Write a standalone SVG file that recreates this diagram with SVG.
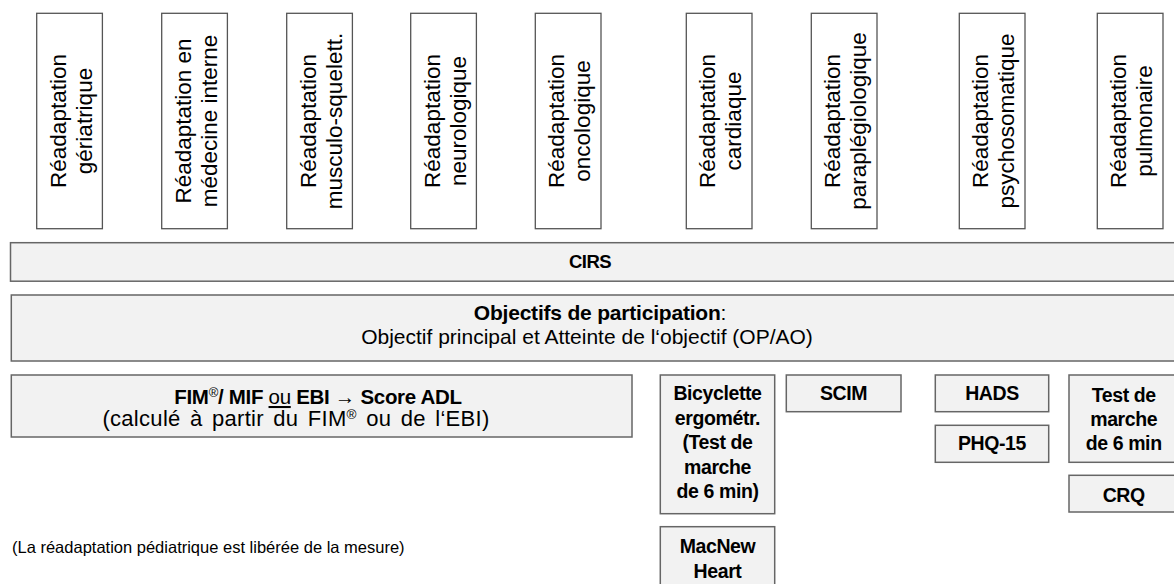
<svg xmlns="http://www.w3.org/2000/svg" width="1174" height="584" viewBox="0 0 1174 584">
<style>
.top{fill:#ffffff;stroke:#555555;stroke-width:1.3}
.bar{fill:#f2f2f2;stroke:#666666;stroke-width:1.5}
.rt{font-family:"Liberation Sans",Arial,sans-serif;font-size:22.5px;fill:#000;text-anchor:middle}
.h{font-family:"Liberation Sans",Arial,sans-serif;fill:#000;text-anchor:middle}
.b{font-weight:bold}
.sm{font-family:"Liberation Sans",Arial,sans-serif;font-size:19.5px;font-weight:bold;fill:#000;text-anchor:middle;letter-spacing:-0.4px}
</style>
<g id="connectors"></g>
<g id="n-geriatrique"><rect class="top" x="36.7" y="13.3" width="65.7" height="215.4"/><text class="rt" transform="translate(69.5,121) rotate(-90)"><tspan x="0" y="-4">Réadaptation</tspan><tspan x="0" y="22">gériatrique</tspan></text></g>
<g id="n-medecine"><rect class="top" x="161.7" y="13.3" width="65.7" height="215.4"/><text class="rt" transform="translate(194.5,121) rotate(-90)"><tspan x="0" y="-4">Réadaptation en</tspan><tspan x="0" y="22">médecine interne</tspan></text></g>
<g id="n-musculo"><rect class="top" x="286.7" y="13.3" width="65.7" height="215.4"/><text class="rt" transform="translate(319.5,121) rotate(-90)"><tspan x="0" y="-4">Réadaptation</tspan><tspan x="0" y="22">musculo-squelett.</tspan></text></g>
<g id="n-neuro"><rect class="top" x="410.7" y="13.3" width="65.7" height="215.4"/><text class="rt" transform="translate(443.5,121) rotate(-90)"><tspan x="0" y="-4">Réadaptation</tspan><tspan x="0" y="22">neurologique</tspan></text></g>
<g id="n-onco"><rect class="top" x="535.3" y="13.3" width="65.7" height="215.4"/><text class="rt" transform="translate(568,121) rotate(-90)"><tspan x="0" y="-4">Réadaptation</tspan><tspan x="0" y="22">oncologique</tspan></text></g>
<g id="n-cardiaque"><rect class="top" x="686.3" y="13.3" width="65.7" height="215.4"/><text class="rt" transform="translate(719,121) rotate(-90)"><tspan x="0" y="-4">Réadaptation</tspan><tspan x="0" y="22">cardiaque</tspan></text></g>
<g id="n-paraplegio"><rect class="top" x="811.3" y="13.3" width="65.7" height="215.4"/><text class="rt" transform="translate(844,121) rotate(-90)"><tspan x="0" y="-4">Réadaptation</tspan><tspan x="0" y="22">paraplégiologique</tspan></text></g>
<g id="n-psycho"><rect class="top" x="959.3" y="13.3" width="65.7" height="215.4"/><text class="rt" transform="translate(992,121) rotate(-90)"><tspan x="0" y="-4">Réadaptation</tspan><tspan x="0" y="22">psychosomatique</tspan></text></g>
<g id="n-pulmo"><rect class="top" x="1097.3" y="13.3" width="65.7" height="215.4"/><text class="rt" transform="translate(1130,121) rotate(-90)"><tspan x="0" y="-4">Réadaptation</tspan><tspan x="0" y="22">pulmonaire</tspan></text></g>
<g id="n-cirs"><rect class="bar" x="10.5" y="242.7" width="1175" height="38.5"/><text class="h b" x="590" y="268" font-size="18.5" letter-spacing="-0.5">CIRS</text></g>
<g id="n-objectifs"><rect class="bar" x="11.3" y="295" width="1175" height="66"/><text class="h" x="600" y="320" font-size="21" letter-spacing="-0.2"><tspan class="b">Objectifs de participation</tspan>:</text><text class="h" x="587" y="344" font-size="21">Objectif principal et Atteinte de l‘objectif (OP/AO)</text></g>
<g id="n-fim"><rect class="bar" x="11.3" y="375" width="620.7" height="62"/><text class="h" x="318" y="404" font-size="20.5" letter-spacing="-0.3"><tspan class="b">FIM</tspan><tspan font-size="13" dy="-7">®</tspan><tspan class="b" dy="7">/ MIF </tspan><tspan text-decoration="underline">ou</tspan><tspan class="b"> EBI</tspan> → <tspan class="b">Score ADL</tspan></text><text class="h" x="296" y="426" font-size="22" word-spacing="3" letter-spacing="0.3">(calculé à partir du FIM<tspan font-size="13.5" dy="-7.5">®</tspan><tspan dy="7.5"> ou de l‘EBI)</tspan></text></g>
<g id="n-bicyclette"><rect class="bar" x="660.3" y="375" width="114.4" height="138.7"/><text class="sm"><tspan x="717.5" y="400">Bicyclette</tspan><tspan x="717.5" y="424.5">ergométr.</tspan><tspan x="717.5" y="449">(Test de</tspan><tspan x="717.5" y="473.5">marche</tspan><tspan x="717.5" y="498">de 6 min)</tspan></text></g>
<g id="n-macnew"><rect class="bar" x="660.3" y="526.7" width="114.4" height="70"/><text class="sm"><tspan x="717.5" y="553">MacNew</tspan><tspan x="717.5" y="577.5">Heart</tspan></text></g>
<g id="n-scim"><rect class="bar" x="786.3" y="375" width="114.7" height="36.7"/><text class="sm" x="843.6" y="400">SCIM</text></g>
<g id="n-hads"><rect class="bar" x="935.3" y="375" width="113.4" height="36.7"/><text class="sm" x="992" y="400">HADS</text></g>
<g id="n-phq"><rect class="bar" x="935.3" y="425.3" width="113.4" height="37"/><text class="sm" x="992" y="450">PHQ-15</text></g>
<g id="n-6min"><rect class="bar" x="1069" y="375" width="115" height="87.3"/><text class="sm"><tspan x="1123.7" y="401.5">Test de</tspan><tspan x="1123.7" y="426">marche</tspan><tspan x="1123.7" y="450">de 6 min</tspan></text></g>
<g id="n-crq"><rect class="bar" x="1069" y="475.3" width="115" height="36.7"/><text class="sm" x="1123.7" y="501.5">CRQ</text></g>
<g id="n-note"><text x="12" y="553" font-family="Liberation Sans,Arial,sans-serif" font-size="16.5" fill="#000">(La réadaptation pédiatrique est libérée de la mesure)</text></g>
</svg>
